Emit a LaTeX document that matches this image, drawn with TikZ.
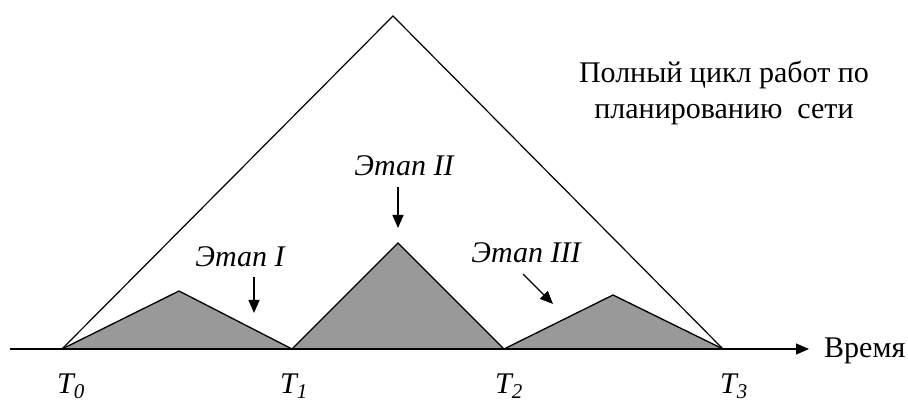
\documentclass[tikz,border=0pt]{standalone}
\usepackage{fontspec}
\setmainfont{Liberation Serif}
\usetikzlibrary{arrows.meta}
\begin{document}
\begin{tikzpicture}[x=1pt,y=-1pt,
  txt/.style={inner sep=0pt,font=\fontsize{30}{36}\selectfont},
  itxt/.style={inner sep=0pt,font=\fontsize{30}{36}\selectfont\itshape},
  stage/.style={fill={rgb,255:red,153;green,153;blue,153},draw=black,line width=1.3pt,line join=miter},
  thin/.style={draw=black,line width=1.2pt},
  pointer/.style={thin,-{Triangle[length=13pt,width=11pt]}}]
\useasboundingbox (0,0) rectangle (908,403);
% key points
\coordinate (T0) at (62,349);
\coordinate (T1) at (292,349);
\coordinate (T2) at (504,349);
\coordinate (T3) at (723,349);
\coordinate (A) at (393,16);
\coordinate (P1) at (179,291);
\coordinate (P2) at (398,243);
\coordinate (P3) at (613,295);
\coordinate (axL) at (10,349);
\coordinate (axR) at (809,349);
% stages
\draw[stage] (T0) -- (P1) -- (T1) -- cycle;
\draw[stage] (T1) -- (P2) -- (T2) -- cycle;
\draw[stage] (T2) -- (P3) -- (T3) -- cycle;
% full cycle
\draw[thin] (T0) -- (A) -- (T3);
% axis
\node[txt,anchor=base west] (time) at (824,358) {Время};
\draw[thin,-{Triangle[length=13pt,width=11pt]}] (axL) -- (axR);
% labels
\node[itxt,anchor=base] (s1) at (240,267) {Этап I};
\node[itxt,anchor=base] (s2) at (404,176) {Этап II};
\node[itxt,anchor=base] (s3) at (526,263) {Этап III};
\coordinate (s1a) at (254,277);
\coordinate (s1b) at (254,313);
\coordinate (s2a) at (398,187);
\coordinate (s2b) at (398,228);
\coordinate (s3a) at (523,274);
\coordinate (s3b) at (553,304);
\draw[pointer] (s1a) -- (s1b);
\draw[pointer] (s2a) -- (s2b);
\draw[pointer] (s3a) -- (s3b);
\node[txt,align=center,anchor=base] (full) at (724,119) {Полный цикл работ по\\планированию\ \ сети};
% T labels
\node[itxt,anchor=base west] (l0) at (57,393) {T\textsubscript{0}};
\node[itxt,anchor=base west] (l1) at (280,393) {T\textsubscript{1}};
\node[itxt,anchor=base west] (l2) at (495,393) {T\textsubscript{2}};
\node[itxt,anchor=base west] (l3) at (720,393) {T\textsubscript{3}};
\end{tikzpicture}
\end{document}
